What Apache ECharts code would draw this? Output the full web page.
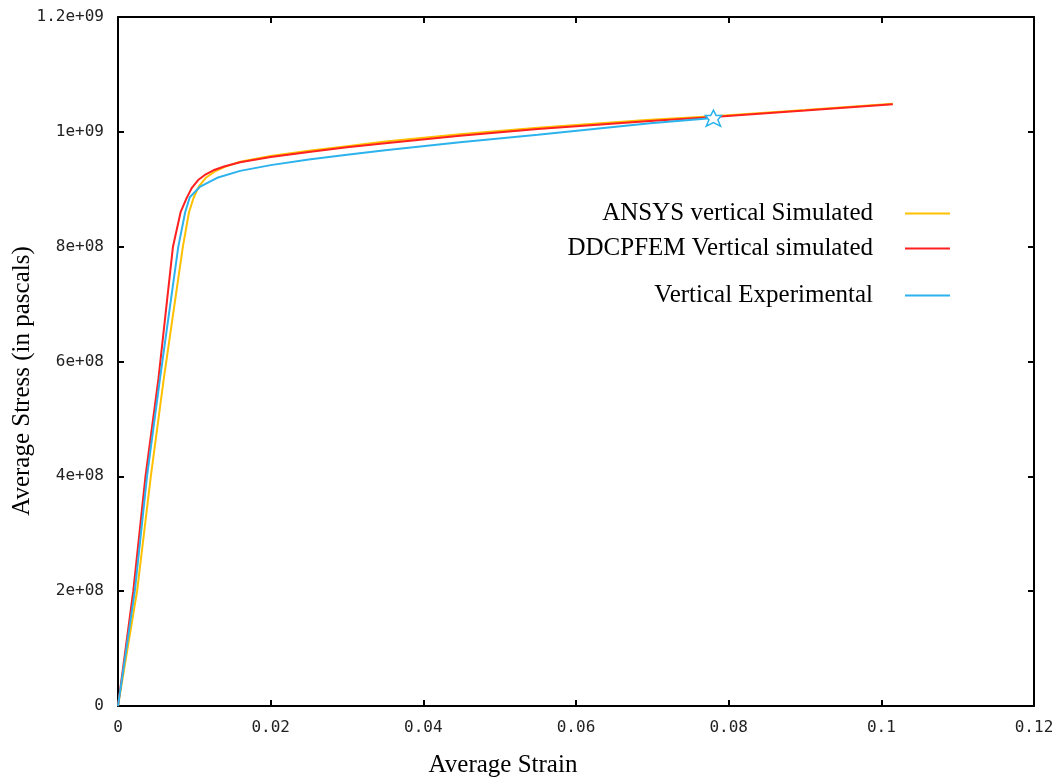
<!DOCTYPE html>
<html>
<head>
<meta charset="utf-8">
<script src="https://cdn.jsdelivr.net/npm/echarts@6/dist/echarts.min.js"></script>
<style>
  html, body { margin: 0; padding: 0; background: #fff; }
  #chart { width: 1059px; height: 779px; }
</style>
</head>
<body>
<div id="chart"></div>
<script>
// strain / stress pairs
const ansys = [
  [0, 0], [0.0025, 2.0e8], [0.0043, 4.0e8], [0.006, 5.7e8], [0.0085, 8.0e8],
  [0.0093, 8.6e8], [0.0099, 8.85e8], [0.0106, 9.05e8], [0.0115, 9.2e8],
  [0.0127, 9.31e8], [0.014, 9.39e8], [0.016, 9.48e8], [0.02, 9.58e8],
  [0.025, 9.67e8], [0.03, 9.75e8], [0.035, 9.83e8], [0.0448, 9.96e8],
  [0.055, 1.007e9], [0.0697, 1.021e9], [0.078, 1.027e9], [0.09, 1.038e9],
  [0.1015, 1.049e9]
];
const ddcpfem = [
  [0, 0], [0.002, 2.0e8], [0.0036, 4.0e8], [0.0053, 5.7e8], [0.0072, 8.0e8],
  [0.0082, 8.6e8], [0.009, 8.85e8], [0.0097, 9.03e8], [0.0105, 9.16e8],
  [0.0115, 9.26e8], [0.0125, 9.33e8], [0.014, 9.4e8], [0.016, 9.47e8],
  [0.02, 9.56e8], [0.025, 9.65e8], [0.03, 9.73e8], [0.035, 9.8e8],
  [0.0448, 9.93e8], [0.055, 1.005e9], [0.0697, 1.019e9], [0.078, 1.026e9],
  [0.09, 1.037e9], [0.1015, 1.048e9]
];
const experimental = [
  [0, 0], [0.0022, 2.0e8], [0.0038, 4.0e8], [0.0055, 5.7e8], [0.0079, 8.0e8],
  [0.0088, 8.6e8], [0.0094, 8.86e8], [0.0107, 9.04e8], [0.013, 9.2e8],
  [0.016, 9.32e8], [0.02, 9.42e8], [0.025, 9.52e8], [0.03, 9.6e8],
  [0.035, 9.68e8], [0.0448, 9.82e8], [0.055, 9.95e8], [0.0697, 1.015e9],
  [0.078, 1.024e9]
];
const seriesNames = ['ANSYS vertical Simulated', 'DDCPFEM Vertical simulated', 'Vertical Experimental'];
const seriesColors = ['#ffc000', '#ff2020', '#2cb2ec'];

const xMax = 0.12, xStep = 0.02;
const yMax = 1.2e9, yStep = 2e8;

function expLabel(v) {
  if (v === 0) return '0';
  let s = v.toExponential();            // e.g. 1.2e+9
  return s.replace(/e([+-])(\d)$/, 'e$10$2');
}
function strainLabel(v) {
  return v === 0 ? '0' : String(+v.toFixed(2));
}

const tickFont = { fontFamily: 'DejaVu Sans Mono', fontSize: 16, color: '#222' };
const frame = { show: true, onZero: false, lineStyle: { color: '#000', width: 2 } };
const ticksIn = { show: true, inside: true, length: 6, lineStyle: { color: '#000', width: 2 } };

const chart = echarts.init(document.getElementById('chart'));

const legendBase = {
  orient: 'vertical',
  align: 'right',
  right: 104,
  itemWidth: 45,
  itemHeight: 2,
  icon: 'rect',
  selectedMode: false,
  textStyle: { fontFamily: 'Liberation Serif', fontSize: 25, color: '#000', padding: [0, 27, 0, 0] }
};

chart.setOption({
  animation: false,
  backgroundColor: '#fff',
  grid: { left: 118, top: 17, right: 25, bottom: 73 },
  legend: [
    Object.assign({}, legendBase, { data: [seriesNames[0]], top: 196 }),
    Object.assign({}, legendBase, { data: [seriesNames[1]], top: 231 }),
    Object.assign({}, legendBase, { data: [seriesNames[2]], top: 278 })
  ],
  xAxis: [
    {
      type: 'value', min: 0, max: xMax, interval: xStep, position: 'bottom',
      axisLine: frame, axisTick: ticksIn, splitLine: { show: false },
      axisLabel: Object.assign({ margin: 14, formatter: strainLabel }, tickFont)
    },
    {
      type: 'value', min: 0, max: xMax, interval: xStep, position: 'top',
      axisLine: frame, axisTick: ticksIn, splitLine: { show: false },
      axisLabel: { show: false }
    }
  ],
  yAxis: [
    {
      type: 'value', min: 0, max: yMax, interval: yStep, position: 'left',
      axisLine: frame, axisTick: ticksIn, splitLine: { show: false },
      axisLabel: Object.assign({ margin: 14, formatter: expLabel }, tickFont)
    },
    {
      type: 'value', min: 0, max: yMax, interval: yStep, position: 'right',
      axisLine: frame, axisTick: ticksIn, splitLine: { show: false },
      axisLabel: { show: false }
    }
  ],
  graphic: [
    {
      type: 'text', x: 503, y: 765,
      style: { text: 'Average Strain', fontFamily: 'Liberation Serif', fontSize: 25, fill: '#000',
               textAlign: 'center', textVerticalAlign: 'middle' }
    },
    {
      type: 'text', x: 22, y: 381, rotation: Math.PI / 2,
      style: { text: 'Average Stress (in pascals)', fontFamily: 'Liberation Serif', fontSize: 25, fill: '#000',
               textAlign: 'center', textVerticalAlign: 'middle' }
    }
  ],
  series: [
    { name: seriesNames[0], type: 'line', data: ansys, color: seriesColors[0],
      showSymbol: false, lineStyle: { width: 2 }, z: 2 },
    { name: seriesNames[1], type: 'line', data: ddcpfem, color: seriesColors[1],
      showSymbol: false, lineStyle: { width: 2 }, z: 3 },
    { name: seriesNames[2], type: 'line', data: experimental, color: seriesColors[2],
      lineStyle: { width: 2 }, z: 4,
      symbol: 'none',
      markPoint: {
        symbol: 'path://M0,-10 L3,-4 L9,-4 L5,1 L8,8 L0,4 L-8,8 L-5,1 L-9,-4 L-3,-4 Z',
        symbolSize: 16,
        itemStyle: { color: '#fff', borderColor: seriesColors[2], borderWidth: 1.5 },
        label: { show: false },
        data: [{ coord: experimental[experimental.length - 1] }]
      }
    }
  ]
});
</script>
</body>
</html>
